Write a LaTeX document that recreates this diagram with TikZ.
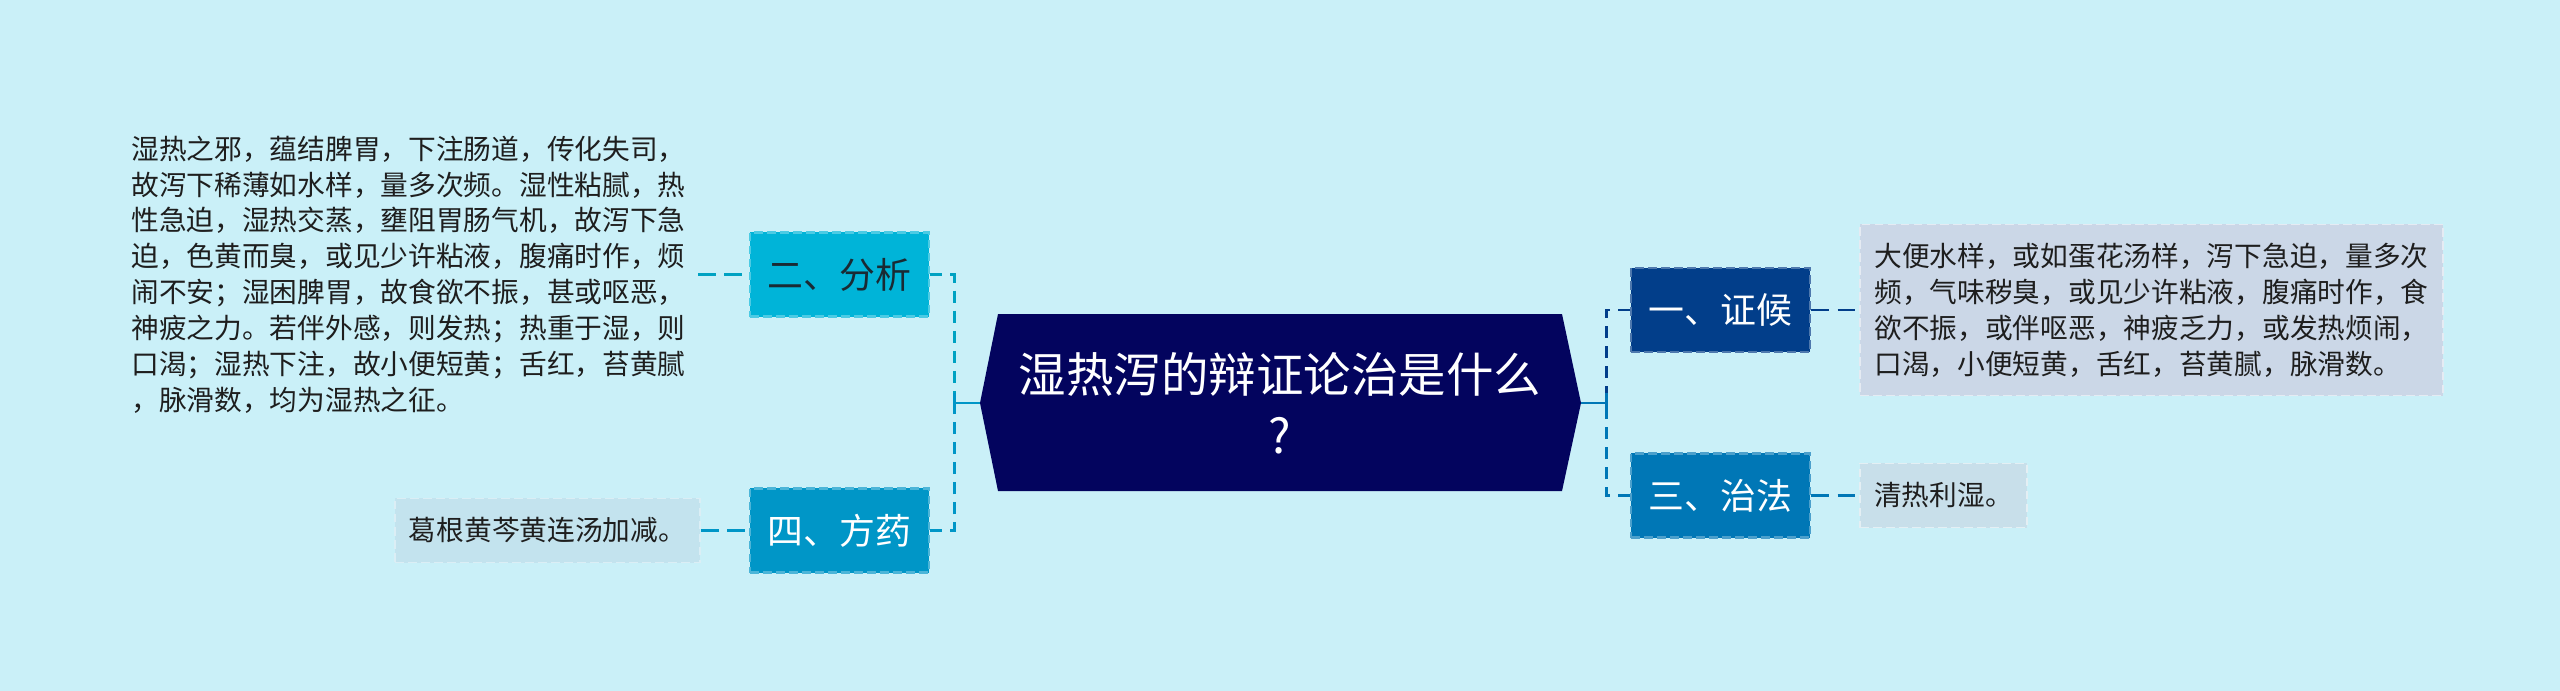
\documentclass[tikz,border=0pt]{standalone}
\usepackage{fontspec}
\setmainfont{Noto Sans CJK SC}
\definecolor{bgc}{HTML}{CAF0F8}
\definecolor{navy}{HTML}{03045E}
\definecolor{cone}{HTML}{023E8A}
\definecolor{cthree}{HTML}{0077B6}
\definecolor{cfour}{HTML}{0096C7}
\definecolor{ctwo}{HTML}{00B4D8}
\definecolor{darktxt}{HTML}{1A2A33}
\definecolor{txt}{HTML}{1E1E1E}
\definecolor{leafone}{HTML}{CBD7E7}
\definecolor{leafthree}{HTML}{C8DFEA}
\definecolor{leaffour}{HTML}{C3E3EE}
\begin{document}
\begin{tikzpicture}[x=0.01cm,y=-0.01cm]
\tikzset{
  branch/.style={rectangle, inner sep=0pt, minimum width=1.79cm, minimum height=0.84cm,
    font=\fontsize{10.2pt}{12pt}\selectfont, line width=0.6pt, dash pattern=on 2.5pt off 1.2pt},
  leaf/.style={rectangle, inner sep=0pt, align=left, text=txt,
    font=\fontsize{7.88pt}{10.2pt}\selectfont, line width=0.5pt, dash pattern=on 2.5pt off 1.2pt},
  link/.style={line width=0.85pt, dash pattern=on 5pt off 2.5pt},
  vlink/.style={line width=0.85pt, dash pattern=on 3.4pt off 2.3pt},
  solidlink/.style={line width=0.85pt},
}
\fill[bgc] (0,0) rectangle (2560,691);
\useasboundingbox (0,0) rectangle (2560,691);

% central topic
\coordinate (cl) at (980,403);
\coordinate (cr) at (1581,403);
\fill[navy] (998,314) -- (1562,314) -- (cr) -- (1562,491) -- (998,491) -- (cl) -- cycle;
\node[align=center, text=white, font=\fontsize{13.5pt}{17.4pt}\selectfont] (c) at (1280,403)
  {湿热泻的辩证论治是什么\\?};

% branches
\node[branch, fill=ctwo, draw=ctwo!70!white, text=darktxt] (b2) at (839.5,274.5) {二、分析};
\node[branch, fill=cfour, draw=cfour!70!white, text=white] (b4) at (839.5,530.5) {四、方药};
\node[branch, fill=cone, draw=cone!70!white, text=white] (b1) at (1720.5,310) {一、证候};
\node[branch, fill=cthree, draw=cthree!70!white, text=white] (b3) at (1720.5,495.5) {三、治法};

% leaves
\node[leaf, minimum width=5.77cm, minimum height=2.9cm] (t2) at (408.5,274.5)
  {湿热之邪，蕴结脾胃，下注肠道，传化失司，\\
   故泻下稀薄如水样，量多次频。湿性粘腻，热\\
   性急迫，湿热交蒸，壅阻胃肠气机，故泻下急\\
   迫，色黄而臭，或见少许粘液，腹痛时作，烦\\
   闹不安；湿困脾胃，故食欲不振，甚或呕恶，\\
   神疲之力。若伴外感，则发热；热重于湿，则\\
   口渴；湿热下注，故小便短黄；舌红，苔黄腻\\
   ，脉滑数，均为湿热之征。};
\node[leaf, fill=leaffour, draw=leaffour!60!white, minimum width=3.05cm, minimum height=0.64cm] (t4) at (547.5,530.5)
  {葛根黄芩黄连汤加减。};
\node[leaf, fill=leafone, draw=leafone!50!white, minimum width=5.83cm, minimum height=1.71cm] (t1) at (2151.5,310)
  {大便水样，或如蛋花汤样，泻下急迫，量多次\\
   频，气味秽臭，或见少许粘液，腹痛时作，食\\
   欲不振，或伴呕恶，神疲乏力，或发热烦闹，\\
   口渴，小便短黄，舌红，苔黄腻，脉滑数。};
\node[leaf, fill=leafthree, draw=leafthree!50!white, minimum width=1.67cm, minimum height=0.64cm] (t3) at (1943.5,495.5)
  {清热利湿。};

% left junction
\coordinate (lj) at (954,403);
\draw[vlink, ctwo!90!black] (b2.east) -| (lj);
\draw[vlink, cfour] (b4.east) -| (lj);
\draw[solidlink, cfour] (cl) -- (lj);
\draw[solidlink, cfour] ([yshift=0.1cm]lj) -- ([yshift=-0.1cm]lj);

% right junction
\coordinate (rj) at (1606,403);
\draw[vlink, cone] (b1.west) -| (rj);
\draw[vlink, cthree] (b3.west) -| (rj);
\draw[solidlink, cthree] (cr) -- (rj);
\draw[solidlink, cthree] ([yshift=0.1cm]rj) -- ([yshift=-0.1cm]rj);

% leaf connectors
\draw[link, ctwo!90!black] (t2.east) -- (b2.west);
\draw[link, cfour] (t4.east) -- (b4.west);
\draw[link, cone] (b1.east) -- (t1.west);
\draw[link, cthree] (b3.east) -- (t3.west);
\end{tikzpicture}
\end{document}
